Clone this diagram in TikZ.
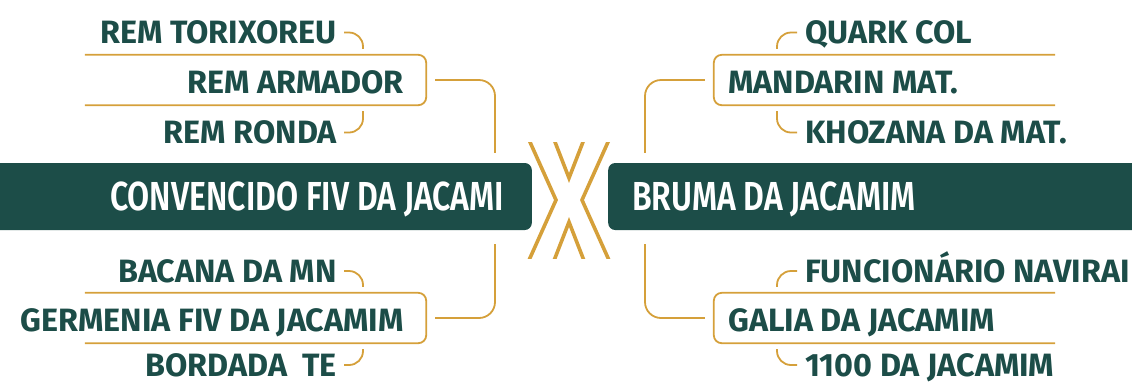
\documentclass[tikz,border=0pt]{standalone}
\usepackage{fontspec}
\setmainfont{Fira Sans}
\newfontfamily\headfont{Fira Sans SemiBold}[FakeStretch=0.79]
\usepackage{tikz}
\usetikzlibrary{positioning}
\usepackage{xcolor}
\definecolor{pine}{HTML}{1C4D48}
\definecolor{ochre}{HTML}{D5A03A}

\begin{document}
\begin{tikzpicture}[x=1pt,y=-1pt,
  entry/.style={font=\bfseries\fontsize{32.3}{32.3}\selectfont,text=pine,inner sep=0pt,text height=22pt,text depth=0pt},
  frame/.style={minimum width=341pt,minimum height=50pt,inner sep=0pt},
  headbox/.style={fill=pine,rounded corners=7pt,minimum width=560pt,minimum height=67pt,inner sep=0pt},
  headtxt/.style={font=\headfont\fontsize{40.5}{40.5}\selectfont,text=white,inner sep=0pt,text height=28pt,text depth=0pt},
  link/.style={draw=ochre,line width=1.8pt},
  cross/.style={draw=ochre,line width=3.6pt}]
\useasboundingbox (0,0) rectangle (1132,384);

% main boxes
\node[headbox,anchor=east] (convencido) at (532,196.5) {};
\node[headtxt,anchor=west] (convtxt) at (110,196) {CONVENCIDO FIV DA JACAMI};
\node[headbox,anchor=west] (bruma) at (608,196.5) {};
\node[headtxt,anchor=west] (brutxt) at (632,196) {BRUMA DA JACAMIM};

% left side
\node[entry,anchor=east] (torixoreu) at (337,32.5) {REM TORIXOREU};
\node[entry,anchor=east] (armador) at (404,82) {REM ARMADOR};
\node[entry,anchor=east] (ronda) at (337,132.5) {REM RONDA};
\node[frame] (armbox) at (255.5,80) {};
\node[entry,anchor=east] (bacana) at (337,271) {BACANA DA MN};
\node[entry,anchor=east] (germenia) at (404,320) {GERMENIA FIV DA JACAMIM};
\node[entry,anchor=east] (bordada) at (337,365) {BORDADA\ \ TE};
\node[frame] (germbox) at (255.5,318) {};

% right side
\node[entry,anchor=west] (quark) at (805,32.5) {QUARK COL};
\node[entry,anchor=west] (mandarin) at (728,82) {MANDARIN MAT.};
\node[entry,anchor=west] (khozana) at (805,132.5) {KHOZANA DA MAT.};
\node[frame] (mandbox) at (884.5,80) {};
\node[entry,anchor=west] (funcionario) at (805,271) {FUNCIONÁRIO NAVIRAI};
\node[entry,anchor=west] (galia) at (728,320) {GALIA DA JACAMIM};
\node[entry,anchor=west] (jacamim) at (805,365) {1100 DA JACAMIM};
\node[frame] (galbox) at (884.5,318) {};

% open frames
\foreach \b in {armbox,germbox}
  \draw[link,rounded corners=8pt] (\b.north west) -- (\b.north east) -- (\b.south east) -- (\b.south west);
\foreach \b in {mandbox,galbox}
  \draw[link,rounded corners=8pt] (\b.north east) -- (\b.north west) -- (\b.south west) -- (\b.south east);

% hooks
\foreach \t/\b in {torixoreu/armbox.north,ronda/armbox.south,bacana/germbox.north,bordada/germbox.south}
  \draw[link,rounded corners=14pt,shorten >=6pt] ([xshift=7pt]\t.east) -| ([xshift=26pt]\t.east |- \b);
\foreach \t/\b in {quark/mandbox.north,khozana/mandbox.south,funcionario/galbox.north,jacamim/galbox.south}
  \draw[link,rounded corners=14pt,shorten >=6pt] ([xshift=-8pt]\t.west) -| ([xshift=-28pt]\t.west |- \b);

% connectors to the main boxes
\draw[link,rounded corners=16pt,shorten <=9pt,shorten >=10pt] (armbox.east) -| ([xshift=-37pt]convencido.north east);
\draw[link,rounded corners=16pt,shorten <=9pt,shorten >=14pt] (germbox.east) -| ([xshift=-37pt]convencido.south east);
\draw[link,rounded corners=16pt,shorten <=9pt,shorten >=10pt] (mandbox.west) -| ([xshift=37pt]bruma.north west);
\draw[link,rounded corners=16pt,shorten <=9pt,shorten >=14pt] (galbox.west) -| ([xshift=37pt]bruma.south west);

% versus mark
\begin{scope}
\clip (515,142) rectangle (625,258);
\draw[cross] (522.8,126) -- (556,200) -- (522.8,274);
\draw[cross] (615.2,126) -- (582,200) -- (615.2,274);
\draw[cross] (548.8,126) -- (569,178) -- (589.2,126);
\draw[cross] (548.8,274) -- (569,222) -- (589.2,274);
\end{scope}
\end{tikzpicture}
\end{document}
